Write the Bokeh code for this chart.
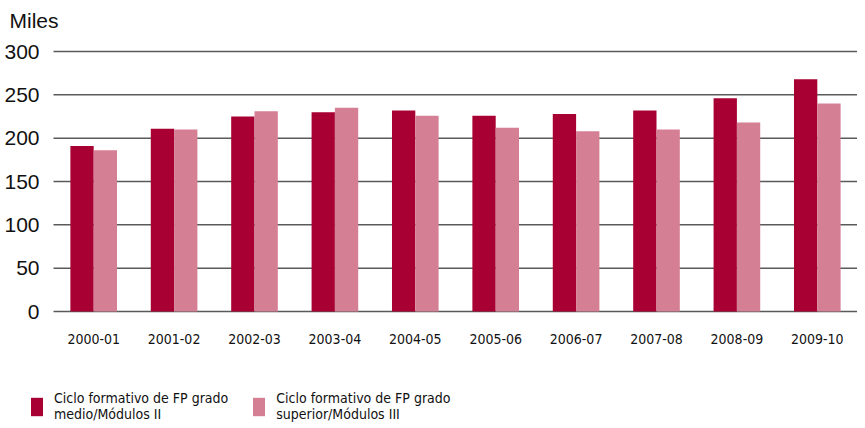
from bokeh.plotting import figure
from bokeh.models import Range1d, FixedTicker, Legend, LegendItem, LinearAxis, Label
from bokeh.embed import file_html
from bokeh.resources import INLINE

categories = ["2000-01", "2001-02", "2002-03", "2003-04", "2004-05",
              "2005-06", "2006-07", "2007-08", "2008-09", "2009-10"]
medio = [191, 211, 225, 230, 232, 226, 228, 232, 246, 268]
superior = [186, 210, 231, 235, 226, 212, 208, 210, 218, 240]
yticks = [0, 50, 100, 150, 200, 250, 300]
series_names = ["Ciclo formativo de FP grado\nmedio/Módulos II",
                "Ciclo formativo de FP grado\nsuperior/Módulos III"]
unit_label = "Miles"

DARK = "#A80032"
LIGHT = "#D57F95"
NARROW = "DejaVu Sans Condensed"
REG = "Liberation Sans"
TXT = "#111111"

# ---- layout (canvas pixels) ----
W, H = 857, 424
PLOT_LEFT, PLOT_TOP, PLOT_BOTTOM = 53, 51, 311
n = len(categories)
ymax = yticks[-1]
px_x = (W - PLOT_LEFT) / n                      # px per category
px_y = (PLOT_BOTTOM - PLOT_TOP) / ymax           # px per unit
x_start = -0.5 - PLOT_LEFT / px_x
y_end = ymax + PLOT_TOP / px_y
y_start = -(H - PLOT_BOTTOM) / px_y

def cx(c):  # canvas x -> data x (annotation placement only)
    return x_start + c / px_x

def cy(c):  # canvas y -> data y (annotation placement only)
    return y_end - c / px_y

p = figure(width=W, height=H, x_range=Range1d(x_start, n - 0.5), y_range=Range1d(y_start, y_end),
           x_axis_location=None, y_axis_location=None, output_backend="svg",
           toolbar_location=None, min_border=0, min_border_left=0, min_border_right=0,
           min_border_top=0, min_border_bottom=0)
p.outline_line_color = None
p.grid.visible = False

xs = list(range(n))
# gridlines
p.segment(x0=[-0.5] * len(yticks), x1=[n - 0.5] * len(yticks), y0=yticks, y1=yticks,
          line_color="#5a5a5a", line_width=1.5)

src = dict(x1=[x - 0.145 for x in xs], x2=[x + 0.145 for x in xs], medio=medio, superior=superior)
r1 = p.vbar(x="x1", top="medio", bottom=0, width=0.29, source=src, color=DARK, line_color=None)
r2 = p.vbar(x="x2", top="superior", bottom=0, width=0.29, source=src, color=LIGHT, line_color=None)

yax = LinearAxis(fixed_location=-0.5, ticker=FixedTicker(ticks=yticks))
xax = LinearAxis(fixed_location=0, ticker=FixedTicker(ticks=xs),
                 major_label_overrides={i: c for i, c in enumerate(categories)})
for ax in (xax, yax):
    ax.axis_line_color = None
    ax.major_tick_line_color = None
    ax.minor_tick_line_color = None
    ax.major_label_text_color = TXT
yax.major_label_text_font = REG
yax.major_label_text_font_size = "21px"
yax.major_label_standoff = 8
xax.major_label_text_font = NARROW
xax.major_label_text_font_size = "14px"
xax.major_label_standoff = 16
p.add_layout(yax, "left")
p.add_layout(xax, "below")

p.add_layout(Label(x=cx(9), y=cy(20), text=unit_label, text_font=REG, text_font_size="21px",
                   text_color=TXT, text_baseline="alphabetic", text_align="left"))

legend = Legend(items=[LegendItem(label=series_names[0], renderers=[r1]),
                       LegendItem(label=series_names[1], renderers=[r2])],
                orientation="horizontal", location=(29, 2),
                margin=0, padding=0, spacing=23,
                glyph_width=15, glyph_height=23, label_standoff=10,
                label_text_font=NARROW, label_text_font_size="14px",
                label_text_color=TXT, label_text_line_height=1.3,
                border_line_color=None, background_fill_alpha=0)
p.add_layout(legend, "center")

open("out.html", "w").write(file_html(p, INLINE))
